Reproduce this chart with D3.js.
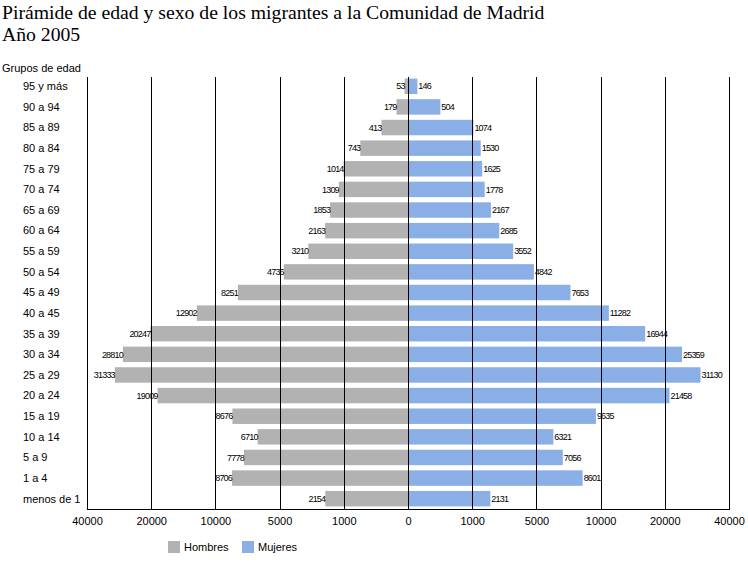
<!DOCTYPE html>
<html><head><meta charset="utf-8">
<script src="https://cdn.jsdelivr.net/npm/d3@7"></script>
<style>body{margin:0;background:#fff}svg{display:block}</style>
</head><body>
<script>
const categories = ["95 y más","90 a 94","85 a 89","80 a 84","75 a 79","70 a 74","65 a 69","60 a 64","55 a 59","50 a 54","45 a 49","40 a 45","35 a 39","30 a 34","25 a 29","20 a 24","15 a 19","10 a 14","5 a 9","1 a 4","menos de 1"];
const hombres = [53,179,413,743,1014,1309,1853,2163,3210,4736,8251,12902,20247,28810,31333,19009,8676,6710,7778,8706,2154];
const mujeres = [146,504,1074,1530,1625,1778,2167,2685,3552,4842,7653,11282,16944,25359,31130,21458,9635,6321,7056,8601,2131];
const tickValues = [-40000,-20000,-10000,-5000,-1000,0,1000,5000,10000,20000,40000];
const seriesNames = ["Hombres","Mujeres"];
const colors = ["#b2b2b2","#8aaee6"];

(function(){
const W=748,H=562;
const mL=87,mR=729,mT=76,mB=509;
const svg=d3.select("body").append("svg").attr("width",W).attr("height",H);

const x=d3.scaleLinear().domain(tickValues)
  .range(tickValues.map((d,i)=>mL+i*(mR-mL)/(tickValues.length-1)));
const y=d3.scaleBand().domain(categories).range([mT,mB]).paddingInner(0.25).paddingOuter(0.125);

const serif="Liberation Serif, Times New Roman, serif";
const sans="Liberation Sans, Arial, sans-serif";

// title
svg.append("text").attr("x",2).attr("y",19).attr("font-family",serif).attr("font-size",19.7).text("Pirámide de edad y sexo de los migrantes a la Comunidad de Madrid");
svg.append("text").attr("x",2).attr("y",41).attr("font-family",serif).attr("font-size",19.7).text("Año 2005");
svg.append("text").attr("x",2).attr("y",72).attr("font-family",sans).attr("font-size",11).text("Grupos de edad");

// bars
const g=svg.append("g");
g.append("g").selectAll("rect").data(hombres).join("rect")
  .attr("x",d=>x(-d)).attr("y",(d,i)=>y(categories[i])).attr("width",d=>x(0)-x(-d)).attr("height",y.bandwidth()).attr("fill",colors[0]);
g.append("g").selectAll("rect").data(mujeres).join("rect")
  .attr("x",x(0)).attr("y",(d,i)=>y(categories[i])).attr("width",d=>x(d)-x(0)).attr("height",y.bandwidth()).attr("fill",colors[1]);

// value labels
svg.append("g").selectAll("text").data(hombres).join("text")
  .attr("x",d=>x(-d)).attr("y",(d,i)=>y(categories[i])+y.bandwidth()/2).attr("dy","0.35em")
  .attr("text-anchor","end").attr("font-family",sans).attr("font-size",9).attr("letter-spacing",-0.8).text(d=>d);
svg.append("g").selectAll("text").data(mujeres).join("text")
  .attr("x",d=>x(d)+1).attr("y",(d,i)=>y(categories[i])+y.bandwidth()/2).attr("dy","0.35em")
  .attr("text-anchor","start").attr("font-family",sans).attr("font-size",9).attr("letter-spacing",-0.8).text(d=>d);

// gridlines
svg.append("g").selectAll("line").data(tickValues.slice(1)).join("line")
  .attr("x1",d=>Math.round(x(d))+0.5).attr("x2",d=>Math.round(x(d))+0.5).attr("y1",mT+1).attr("y2",mB).attr("stroke","#000").attr("stroke-width",1);

// axis lines
svg.append("line").attr("x1",mL+0.5).attr("x2",mL+0.5).attr("y1",mT+1).attr("y2",mB+0.5).attr("stroke","#000");
svg.append("line").attr("x1",mL).attr("x2",mR+1).attr("y1",mB+0.5).attr("y2",mB+0.5).attr("stroke","#000");

// x axis labels
const ax=svg.append("g").attr("transform",`translate(0,${mB})`)
  .call(d3.axisBottom(x).tickValues(tickValues).tickSize(0).tickPadding(8).tickFormat(d=>Math.abs(d)));
ax.select(".domain").remove();
ax.selectAll("text").attr("font-family",sans).attr("font-size",11).attr("fill","#000");

// category labels
svg.append("g").selectAll("text").data(categories).join("text")
  .attr("x",23).attr("y",d=>y(d)+y.bandwidth()/2).attr("dy","0.35em")
  .attr("font-family",sans).attr("font-size",11).text(d=>d);

// legend
const lg=svg.append("g");
const lx=[168,242];
seriesNames.forEach((n,i)=>{
  lg.append("rect").attr("x",lx[i]).attr("y",541).attr("width",12).attr("height",12).attr("fill",colors[i]);
  lg.append("text").attr("x",lx[i]+16).attr("y",547).attr("dy","0.35em").attr("font-family",sans).attr("font-size",11).text(n);
});
})();
</script>
</body></html>
